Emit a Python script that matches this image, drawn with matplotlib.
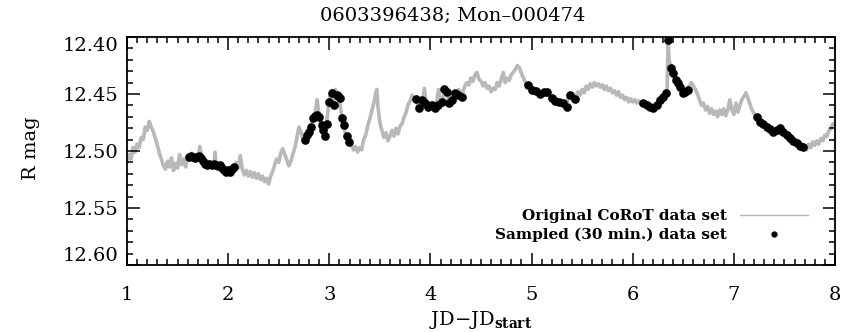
import matplotlib
matplotlib.use("Agg")
import matplotlib.pyplot as plt
from matplotlib.lines import Line2D
from matplotlib.ticker import MultipleLocator

# ---------------- data ----------------
title_text = "0603396438; Mon\u2013000474"
x_ticks = [1, 2, 3, 4, 5, 6, 7, 8]
y_ticks = [12.40, 12.45, 12.50, 12.55, 12.60]
y_ticklabels = ["12.40", "12.45", "12.50", "12.55", "12.60"]
legend_labels = ["Original CoRoT data set", "Sampled (30 min.) data set"]

# original (dense) light curve
orig_t = [1.00, 1.02, 1.04, 1.06, 1.08, 1.10, 1.12, 1.14, 1.16, 1.18, 1.20, 1.22, 1.24, 1.26, 1.28, 1.30,
          1.32, 1.34, 1.36, 1.38, 1.40, 1.42, 1.44, 1.46, 1.48, 1.50, 1.52, 1.54, 1.56, 1.58, 1.60, 1.62,
          1.64, 1.66, 1.68, 1.70, 1.72, 1.74, 1.76, 1.78, 1.80, 1.82, 1.84, 1.86, 1.87, 1.88, 1.90, 1.92,
          1.94, 1.96, 1.98, 2.00, 2.02, 2.04, 2.06, 2.08, 2.10, 2.12, 2.14, 2.16, 2.18, 2.20, 2.22, 2.24,
          2.26, 2.28, 2.30, 2.32, 2.34, 2.36, 2.38, 2.40, 2.42, 2.44, 2.46, 2.48, 2.50, 2.52, 2.54, 2.56,
          2.58, 2.60, 2.62, 2.64, 2.66, 2.68, 2.70, 2.72, 2.74, 2.76, 2.78, 2.80, 2.82, 2.84, 2.86, 2.88,
          2.90, 2.92, 2.94, 2.96, 2.98, 3.00, 3.02, 3.04, 3.06, 3.08, 3.10, 3.12, 3.14, 3.16, 3.18, 3.20,
          3.22, 3.24, 3.26, 3.28, 3.30, 3.32, 3.34, 3.36, 3.38, 3.40, 3.42, 3.44, 3.46, 3.47, 3.48, 3.50,
          3.52, 3.54, 3.56, 3.58, 3.60, 3.62, 3.64, 3.66, 3.68, 3.70, 3.72, 3.74, 3.76, 3.78, 3.80, 3.82,
          3.84, 3.86, 3.88, 3.90, 3.92, 3.94, 3.96, 3.98, 4.00, 4.02, 4.04, 4.06, 4.08, 4.10, 4.12, 4.14,
          4.16, 4.18, 4.20, 4.22, 4.24, 4.26, 4.28, 4.30, 4.32, 4.34, 4.36, 4.38, 4.40, 4.42, 4.44, 4.46,
          4.48, 4.50, 4.52, 4.54, 4.56, 4.58, 4.60, 4.62, 4.64, 4.66, 4.68, 4.70, 4.72, 4.74, 4.76, 4.78,
          4.80, 4.82, 4.84, 4.86, 4.88, 4.90, 4.92, 4.94, 4.96, 4.98, 5.00, 5.02, 5.04, 5.06, 5.08, 5.10,
          5.12, 5.14, 5.16, 5.18, 5.20, 5.22, 5.24, 5.26, 5.28, 5.30, 5.32, 5.34, 5.36, 5.38, 5.40, 5.42,
          5.44, 5.46, 5.48, 5.50, 5.52, 5.54, 5.56, 5.58, 5.60, 5.62, 5.64, 5.66, 5.68, 5.70, 5.72, 5.74,
          5.76, 5.78, 5.80, 5.82, 5.84, 5.86, 5.88, 5.90, 5.92, 5.94, 5.96, 5.98, 6.00, 6.02, 6.04, 6.06,
          6.08, 6.10, 6.12, 6.14, 6.16, 6.18, 6.20, 6.22, 6.24, 6.26, 6.28, 6.30, 6.32, 6.34, 6.35, 6.36,
          6.38, 6.40, 6.42, 6.44, 6.46, 6.48, 6.50, 6.52, 6.54, 6.56, 6.58, 6.60, 6.62, 6.64, 6.66, 6.68,
          6.70, 6.72, 6.74, 6.76, 6.78, 6.80, 6.82, 6.84, 6.86, 6.88, 6.90, 6.92, 6.94, 6.96, 6.98, 7.00,
          7.02, 7.04, 7.06, 7.08, 7.10, 7.12, 7.14, 7.16, 7.18, 7.20, 7.22, 7.24, 7.26, 7.28, 7.30, 7.32,
          7.34, 7.36, 7.38, 7.40, 7.42, 7.44, 7.46, 7.48, 7.50, 7.52, 7.54, 7.56, 7.58, 7.60, 7.62, 7.64,
          7.66, 7.68, 7.70, 7.72, 7.74, 7.76, 7.78, 7.80, 7.82, 7.84, 7.86, 7.88, 7.90, 7.92, 7.94, 7.96,
          7.98, 8.00]
orig_mag = [12.510, 12.503, 12.507, 12.497, 12.501, 12.494, 12.497, 12.488, 12.490, 12.479, 12.482, 12.474,
            12.479, 12.483, 12.489, 12.495, 12.502, 12.507, 12.513, 12.516, 12.509, 12.514, 12.506, 12.517,
            12.511, 12.515, 12.503, 12.512, 12.507, 12.514, 12.504, 12.507, 12.502, 12.507, 12.503, 12.508,
            12.496, 12.507, 12.510, 12.513, 12.509, 12.513, 12.510, 12.514, 12.501, 12.512, 12.515, 12.511,
            12.516, 12.519, 12.516, 12.520, 12.516, 12.518, 12.513, 12.510, 12.515, 12.504, 12.516, 12.521,
            12.517, 12.522, 12.518, 12.523, 12.519, 12.524, 12.520, 12.525, 12.522, 12.527, 12.524, 12.529,
            12.522, 12.518, 12.512, 12.507, 12.510, 12.502, 12.498, 12.503, 12.508, 12.513, 12.509, 12.503,
            12.497, 12.488, 12.479, 12.483, 12.490, 12.492, 12.485, 12.482, 12.477, 12.472, 12.466, 12.455,
            12.470, 12.476, 12.483, 12.488, 12.470, 12.455, 12.447, 12.458, 12.446, 12.452, 12.455, 12.468,
            12.477, 12.485, 12.490, 12.493, 12.495, 12.499, 12.496, 12.501, 12.497, 12.499, 12.490, 12.486,
            12.478, 12.472, 12.465, 12.458, 12.449, 12.446, 12.460, 12.475, 12.482, 12.488, 12.484, 12.491,
            12.487, 12.482, 12.487, 12.480, 12.485, 12.478, 12.476, 12.470, 12.466, 12.459, 12.456, 12.451,
            12.455, 12.453, 12.462, 12.456, 12.459, 12.445, 12.460, 12.462, 12.458, 12.461, 12.463, 12.458,
            12.446, 12.458, 12.456, 12.446, 12.449, 12.457, 12.454, 12.452, 12.448, 12.451, 12.446, 12.453,
            12.448, 12.443, 12.440, 12.442, 12.436, 12.439, 12.433, 12.431, 12.437, 12.439, 12.443, 12.440,
            12.445, 12.443, 12.448, 12.445, 12.446, 12.440, 12.443, 12.437, 12.431, 12.440, 12.436, 12.438,
            12.433, 12.431, 12.428, 12.425, 12.427, 12.432, 12.436, 12.440, 12.443, 12.444, 12.447, 12.445,
            12.448, 12.450, 12.448, 12.450, 12.447, 12.449, 12.450, 12.453, 12.455, 12.456, 12.454, 12.458,
            12.456, 12.459, 12.458, 12.462, 12.454, 12.450, 12.453, 12.455, 12.451, 12.448, 12.451, 12.446,
            12.449, 12.443, 12.446, 12.441, 12.444, 12.440, 12.443, 12.441, 12.444, 12.442, 12.446, 12.443,
            12.447, 12.445, 12.449, 12.447, 12.451, 12.448, 12.453, 12.451, 12.455, 12.453, 12.457, 12.454,
            12.457, 12.455, 12.458, 12.456, 12.459, 12.458, 12.460, 12.459, 12.462, 12.461, 12.463, 12.460,
            12.459, 12.455, 12.453, 12.451, 12.449, 12.446, 12.403, 12.420, 12.428, 12.431, 12.436, 12.439,
            12.443, 12.446, 12.449, 12.447, 12.446, 12.443, 12.440, 12.443, 12.446, 12.450, 12.455, 12.460,
            12.458, 12.464, 12.461, 12.467, 12.463, 12.468, 12.465, 12.470, 12.464, 12.468, 12.463, 12.469,
            12.464, 12.455, 12.464, 12.468, 12.458, 12.466, 12.460, 12.455, 12.452, 12.449, 12.454, 12.459,
            12.464, 12.467, 12.470, 12.472, 12.475, 12.475, 12.478, 12.478, 12.481, 12.480, 12.484, 12.482,
            12.482, 12.480, 12.481, 12.483, 12.484, 12.487, 12.488, 12.490, 12.491, 12.493, 12.494, 12.496,
            12.496, 12.498, 12.496, 12.499, 12.494, 12.497, 12.492, 12.495, 12.491, 12.494, 12.489, 12.491,
            12.486, 12.487, 12.482, 12.480, 12.476, 12.477]

# sampled (30 min.) data set
samp_t = [1.61, 1.63, 1.65, 1.67, 1.69, 1.71, 1.73, 1.75, 1.77, 1.79, 1.81, 1.84, 1.86, 1.88, 1.90,
          1.92, 1.94, 1.96, 1.98, 2.00, 2.02, 2.04, 2.06,
          2.760, 2.780, 2.800, 2.816, 2.842, 2.860, 2.876, 2.901, 2.925, 2.941, 2.958, 2.980, 3.000,
          3.024, 3.047, 3.073, 3.090, 3.106, 3.123, 3.146, 3.172, 3.198,
          3.857, 3.890, 3.914, 3.946, 3.979, 4.013, 4.045, 4.078, 4.112, 4.134, 4.161, 4.187, 4.210,
          4.243, 4.276, 4.309,
          4.968, 5.001, 5.044, 5.083, 5.123, 5.156, 5.199, 5.232, 5.274, 5.314, 5.347, 5.380, 5.429,
          6.105, 6.138, 6.171, 6.204, 6.237, 6.270, 6.303, 6.329, 6.352, 6.376, 6.401, 6.428, 6.451,
          6.468, 6.494, 6.517, 6.550,
          7.226, 7.259, 7.291, 7.325, 7.358, 7.390, 7.424, 7.457, 7.489, 7.523, 7.555, 7.588, 7.621,
          7.654, 7.687]
samp_mag = [12.505, 12.504, 12.505, 12.506, 12.505, 12.504, 12.506, 12.509, 12.511, 12.512, 12.511, 12.512,
            12.511, 12.512, 12.513, 12.512, 12.515, 12.517, 12.518, 12.517, 12.518, 12.516, 12.514,
            12.4903, 12.486, 12.4831, 12.4787, 12.4713, 12.469, 12.4684, 12.4699, 12.4772, 12.4816,
            12.4868, 12.4763, 12.4567, 12.4494, 12.4596, 12.4509, 12.452, 12.4538, 12.4713, 12.4772,
            12.4868, 12.4918,
            12.4544, 12.4623, 12.4553, 12.4579, 12.4614, 12.4596, 12.4623, 12.4596, 12.4570, 12.4456,
            12.4482, 12.4579, 12.4553, 12.4491, 12.4509, 12.4526,
            12.4421, 12.4465, 12.4471, 12.4500, 12.4480, 12.4480, 12.4538, 12.4559, 12.4567, 12.4582,
            12.4611, 12.4509, 12.4546,
            12.4582, 12.4596, 12.4617, 12.4620, 12.4596, 12.4553, 12.4524, 12.4489, 12.4030, 12.4275,
            12.4318, 12.4377, 12.4406, 12.4436, 12.4494, 12.4480, 12.4465,
            12.4704, 12.4743, 12.4763, 12.4787, 12.4807, 12.4831, 12.4816, 12.4801, 12.4831, 12.4860,
            12.4889, 12.4910, 12.4932, 12.4956, 12.4967]

# ---------------- style ----------------
GREY = "#b8b8b8"
plt.rcParams["font.family"] = ["DejaVu Serif"]
plt.rcParams["mathtext.fontset"] = "dejavuserif"

fig = plt.figure(figsize=(8.48, 3.33), dpi=100)
ax = fig.add_axes([127 / 848, 68 / 333, 708 / 848, 228 / 333])

ax.plot(orig_t, orig_mag, color=GREY, lw=2.6, zorder=1, solid_joinstyle="round")
ax.plot(samp_t, samp_mag, ls="none", marker="o", ms=5.2, color="black", zorder=2)

ax.set_xlim(1, 8)
ax.set_ylim(12.60, 12.40)
ax.set_xticks(x_ticks)
ax.set_xticklabels([str(v) for v in x_ticks])
ax.set_yticks(y_ticks)
ax.set_yticklabels(y_ticklabels)
ax.xaxis.set_minor_locator(MultipleLocator(0.1))
ax.yaxis.set_minor_locator(MultipleLocator(0.01))
ax.tick_params(which="both", direction="in", top=True, right=True, width=1.1, colors="black")
ax.tick_params(which="major", length=9)
ax.tick_params(which="minor", length=4.5)
ax.tick_params(axis="x", which="major", pad=15, labelsize=14)
ax.tick_params(axis="y", which="major", pad=6, labelsize=14)
for s in ax.spines.values():
    s.set_linewidth(1.3)

ylabs = ax.get_yticklabels()
ylabs[0].set_va("top")
ylabs[-1].set_va("bottom")

fig.text(453 / 848, 1 - 16 / 333, title_text, ha="center", va="center", fontsize=14)
fig.text(31 / 848, 1 - 148 / 333, "R mag", rotation=90, ha="center", va="center", fontsize=14)
fig.text(481 / 848, 1 - 320 / 333, r"JD$-$JD$_{\mathbf{start}}$", ha="center", va="center", fontsize=14)

h1 = Line2D([], [], color=GREY, lw=1.0)
h2 = Line2D([], [], ls="none", marker="o", ms=3.5, color="black")
leg = ax.legend([h1, h2], legend_labels, loc="center right",
                bbox_to_anchor=((808 - 127) / 708, (265 - 225.5) / 228),
                frameon=False, markerfirst=False, borderpad=0, borderaxespad=0,
                handlelength=4.45, handletextpad=0.85, labelspacing=0.3,
                prop={"family": "DejaVu Serif", "weight": "bold", "size": 11})

fig.savefig("out.png", dpi=100)
